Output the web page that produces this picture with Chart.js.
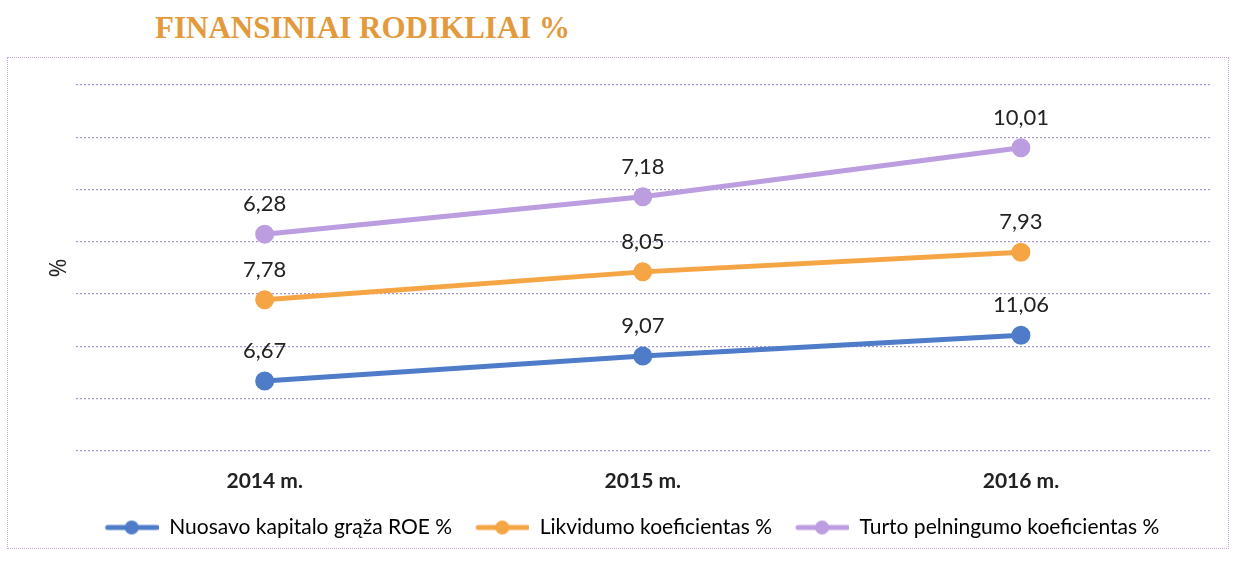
<!DOCTYPE html>
<html>
<head>
<meta charset="utf-8">
<script src="https://cdn.jsdelivr.net/npm/chart.js@4.4.0/dist/chart.umd.min.js"></script>
<style>
  html, body { margin: 0; padding: 0; background: #ffffff; }
  #wrap { position: relative; width: 1236px; height: 567px; overflow: hidden; }
  #title {
    position: absolute; left: 155px; top: 10px;
    font-family: "Liberation Serif", "DejaVu Serif", serif; font-weight: bold;
    font-size: 31px; color: #e39a3c; white-space: nowrap; line-height: 36px;
  }
  #frame {
    position: absolute; left: 7px; top: 57px; width: 1222px; height: 492px;
    border: 1px dotted #c9a6d8; box-sizing: border-box;
  }
  canvas { position: absolute; left: 0; top: 0; }
</style>
</head>
<body>
<div id="wrap">
  <div id="frame"></div>
  <div id="title">FINANSINIAI RODIKLIAI %</div>
  <canvas id="c" width="1236" height="567"></canvas>
</div>
<script>
const categories = ["2014 m.", "2015 m.", "2016 m."];
const roe = [6.67, 9.07, 11.06];
const likvidumo = [7.78, 8.05, 7.93];
const turto = [6.28, 7.18, 10.01];
const seriesNames = ["Nuosavo kapitalo grąža ROE %", "Likvidumo koeficientas %", "Turto pelningumo koeficientas %"];
const colors = ["#4f7cc8", "#f5a544", "#bb9de0"];
const yMax = 35, yStep = 5;

function legendIcon(color) {
  const c = document.createElement('canvas');
  c.width = 64; c.height = 16;
  const x = c.getContext('2d');
  x.strokeStyle = color; x.lineWidth = 5; x.lineCap = 'round';
  x.beginPath(); x.moveTo(13, 8); x.lineTo(62, 8); x.stroke();
  x.fillStyle = color;
  x.beginPath(); x.arc(37, 8, 7, 0, Math.PI * 2); x.fill();
  return c;
}
const icons = colors.map(legendIcon);

const valueLabels = {
  id: 'valueLabels',
  afterDatasetsDraw(chart) {
    const ctx = chart.ctx;
    ctx.save();
    ctx.font = '22px Lato, "Open Sans", sans-serif';
    ctx.fillStyle = '#222222';
    ctx.textAlign = 'center';
    ctx.textBaseline = 'middle';
    chart.data.datasets.forEach((ds, i) => {
      const meta = chart.getDatasetMeta(i);
      meta.data.forEach((pt, j) => {
        const v = ds.data[j];
        ctx.fillText(v.toFixed(2).replace('.', ','), pt.x, pt.y - 30);
      });
    });
    ctx.restore();
  }
};

const mk = (label, data, i) => ({
  label, data,
  borderColor: colors[i], backgroundColor: colors[i],
  borderWidth: 5, pointRadius: 7, pointHoverRadius: 7,
  pointBackgroundColor: colors[i], pointBorderColor: colors[i],
  fill: false, tension: 0
});

new Chart(document.getElementById('c'), {
  type: 'line',
  data: {
    labels: categories,
    datasets: [mk(seriesNames[0], roe, 0), mk(seriesNames[1], likvidumo, 1), mk(seriesNames[2], turto, 2)]
  },
  options: {
    responsive: false,
    animation: false,
    layout: { padding: { left: 44, right: 26, top: 85, bottom: 19 } },
    plugins: {
      title: { display: false },
      tooltip: { enabled: false },
      legend: {
        position: 'bottom',
        labels: {
          usePointStyle: true,
          pointStyleWidth: 64,
          padding: 13,
          color: '#222222',
          font: { size: 21, family: 'Lato, "Open Sans", sans-serif' },
          generateLabels(chart) {
            return chart.data.datasets.map((ds, i) => ({
              text: ds.label, pointStyle: icons[i], fillStyle: colors[i],
              strokeStyle: colors[i], lineWidth: 0, datasetIndex: i, hidden: false
            }));
          }
        }
      }
    },
    scales: {
      x: {
        offset: true,
        grid: { display: false },
        border: { display: false },
        ticks: { color: '#222222', padding: 10, font: { size: 21, weight: 'bold', family: 'Lato, sans-serif' } }
      },
      y: {
        stacked: true,
        min: 0, max: yMax,
        ticks: { display: false, stepSize: yStep },
        border: { display: false, dash: [2, 2] },
        grid: { color: 'rgba(140,120,205,0.8)', lineWidth: 1.2, drawTicks: false },
        title: { display: true, text: '%', color: '#222222', padding: 2, font: { size: 23, family: '"Open Sans", sans-serif' } }
      }
    }
  },
  plugins: [valueLabels]
});
</script>
</body>
</html>
